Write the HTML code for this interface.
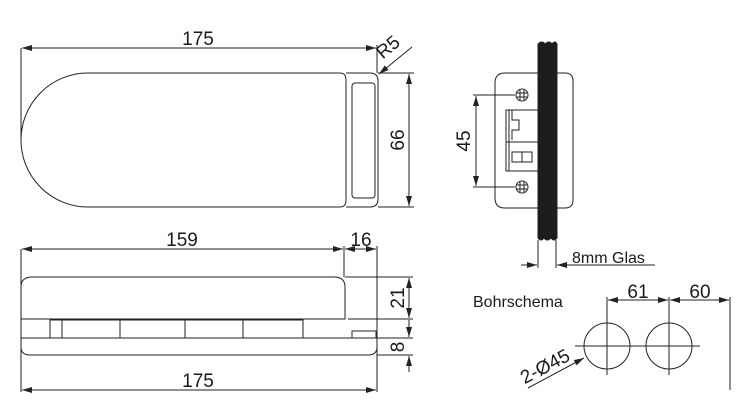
<!DOCTYPE html>
<html><head><meta charset="utf-8"><style>
html,body{margin:0;padding:0;background:#fff;width:755px;height:405px;overflow:hidden}
text{font-family:"Liberation Sans",sans-serif;fill:#1a1a1a}
</style></head><body>
<svg width="755" height="405" viewBox="0 0 755 405" xmlns="http://www.w3.org/2000/svg">
<defs>
<marker id="a" viewBox="0 0 10 6" refX="10" refY="3" markerWidth="10" markerHeight="6" orient="auto-start-reverse" markerUnits="userSpaceOnUse"><path d="M0,0 L10,3 L0,6z" fill="#222"/></marker>
</defs>
<g fill="none" stroke="#222" stroke-width="1">
<path d="M88,73 L340,73 Q346,73 346,80 L346,200 Q346,207 340,207 L88,207 A67,67 0 0 1 88,73Z"/>
<path d="M346,73 L370,73 Q378,73 378,81 L378,199 Q378,207 370,207 L346,207"/>
<rect x="352" y="83" width="23" height="115" rx="3"/>
<line x1="21" y1="48" x2="21" y2="140"/>
<line x1="377" y1="45" x2="377" y2="73"/>
<line x1="22" y1="48" x2="376" y2="48" marker-start="url(#a)" marker-end="url(#a)"/>
<line x1="412" y1="47" x2="379" y2="74" marker-end="url(#a)"/>
<line x1="378" y1="73" x2="414" y2="73"/>
<line x1="378" y1="207" x2="414" y2="207"/>
<line x1="409" y1="74" x2="409" y2="206" marker-start="url(#a)" marker-end="url(#a)"/>
<path d="M21,319 L21,287 Q21,277 32,277 L334,277 Q345,277 345,287 L345,319 Z"/>
<rect x="50" y="320" width="253" height="18"/>
<line x1="62" y1="320" x2="62" y2="338"/><line x1="120" y1="320" x2="120" y2="338"/>
<line x1="185" y1="320" x2="185" y2="338"/><line x1="243" y1="320" x2="243" y2="338"/>
<rect x="352" y="331" width="24" height="7"/>
<path d="M21,338 L377,338 L377,347 Q377,355 368,355 L30,355 Q21,355 21,347 Z"/>
<line x1="21" y1="249" x2="21" y2="392"/>
<line x1="344" y1="246" x2="344" y2="277"/>
<line x1="377" y1="246" x2="377" y2="392"/>
<line x1="22" y1="249" x2="343" y2="249" marker-start="url(#a)" marker-end="url(#a)"/>
<line x1="345" y1="249" x2="376" y2="249" marker-start="url(#a)" marker-end="url(#a)"/>
<line x1="22" y1="390" x2="376" y2="390" marker-start="url(#a)" marker-end="url(#a)"/>
<line x1="345" y1="277" x2="413" y2="277"/>
<line x1="348" y1="319" x2="413" y2="319"/>
<line x1="377" y1="338" x2="413" y2="338"/>
<line x1="377" y1="355" x2="413" y2="355"/>
<line x1="409" y1="278" x2="409" y2="318" marker-start="url(#a)" marker-end="url(#a)"/>
<line x1="409" y1="320" x2="409" y2="337" marker-end="url(#a)"/>
<line x1="409" y1="372" x2="409" y2="356" marker-end="url(#a)"/>
<path d="M538,73 L505,73 Q495,73 495,83 L495,198 Q495,208 505,208 L538,208"/>
<path d="M557,73 L565,73 Q573,73 573,81 L573,200 Q573,208 565,208 L557,208"/>
<path d="M538,44 Q542,40 545,44 Q549,40 552,44 Q555,40 557,44 L557,238 Q554,242 551,238 Q547,242 544,238 Q541,242 538,238 Z" fill="#1c1c1c"/>
<rect x="506" y="110" width="32" height="61"/>
<line x1="506" y1="142" x2="538" y2="142"/><line x1="509" y1="110" x2="509" y2="171"/>
<path d="M512,110 L512,120 L519,120 L519,130 L512,130 L512,140"/>
<rect x="512" y="152" width="10" height="10"/><rect x="522" y="152" width="10" height="10"/>
<circle cx="522" cy="95" r="6"/><circle cx="522" cy="187" r="6"/>
<path d="M520,90v10M524,90v10M517,93h10M517,97h10"/>
<path d="M520,182v10M524,182v10M517,185h10M517,189h10"/>
<line x1="473" y1="95" x2="515" y2="95"/><line x1="473" y1="187" x2="515" y2="187"/>
<line x1="476" y1="96" x2="476" y2="186" marker-start="url(#a)" marker-end="url(#a)"/>
<line x1="538" y1="240" x2="538" y2="268"/><line x1="556" y1="240" x2="556" y2="268"/>
<line x1="521" y1="265" x2="537" y2="265" marker-end="url(#a)"/>
<line x1="655" y1="265" x2="557" y2="265" marker-end="url(#a)"/>
<circle cx="607" cy="346" r="23"/><circle cx="669" cy="346" r="23"/>
<line x1="575" y1="346" x2="700" y2="346"/>
<line x1="607" y1="297" x2="607" y2="375"/><line x1="669" y1="297" x2="669" y2="375"/>
<line x1="730" y1="297" x2="730" y2="390"/>
<line x1="608" y1="300" x2="668" y2="300" marker-start="url(#a)" marker-end="url(#a)"/>
<line x1="670" y1="300" x2="729" y2="300" marker-start="url(#a)" marker-end="url(#a)"/>
<line x1="528" y1="388" x2="584" y2="358" marker-end="url(#a)"/>
</g>
<g font-size="19">
<text x="198" y="45" text-anchor="middle">175</text>
<text transform="translate(392,52) rotate(-40)" text-anchor="middle">R5</text>
<text transform="translate(404,140) rotate(-90)" text-anchor="middle">66</text>
<text x="182" y="246" text-anchor="middle">159</text>
<text x="361" y="246" text-anchor="middle">16</text>
<text transform="translate(404,298) rotate(-90)" text-anchor="middle">21</text>
<text transform="translate(404,347) rotate(-90)" text-anchor="middle">8</text>
<text x="198" y="387" text-anchor="middle">175</text>
<text transform="translate(470,141) rotate(-90)" text-anchor="middle">45</text>
<text x="638" y="298" text-anchor="middle">61</text>
<text x="700" y="298" text-anchor="middle">60</text>
<text transform="translate(548,372) rotate(-28)" text-anchor="middle">2-Ø45</text>
</g>
<text x="572" y="263" font-size="16">8mm Glas</text>
<text x="473" y="307" font-size="16">Bohrschema</text>
</svg>
</body></html>
